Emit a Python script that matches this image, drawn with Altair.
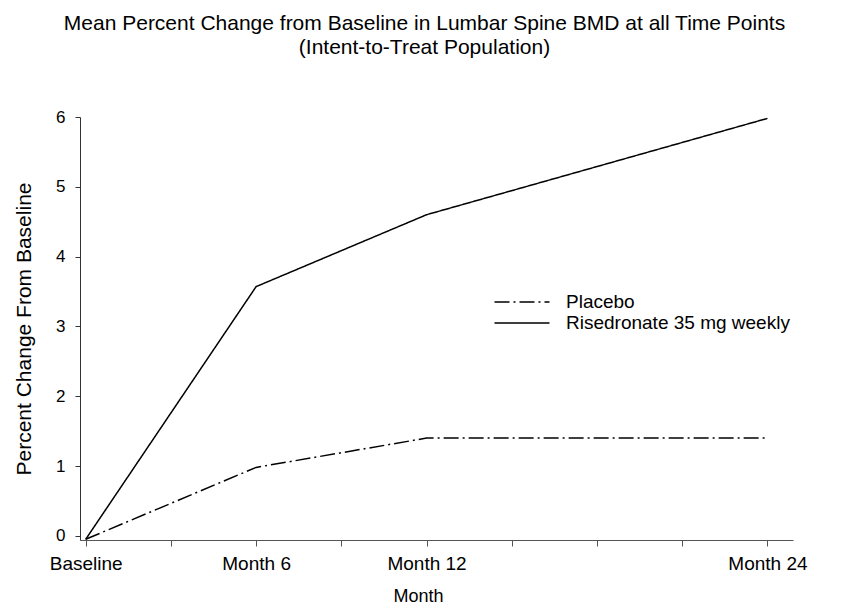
import altair as alt
import pandas as pd

months = [0, 6, 12, 24]
placebo = [-0.05, 0.98, 1.4, 1.4]
risedronate = [-0.05, 3.57, 4.6, 5.98]
series_names = ["Placebo", "Risedronate 35 mg weekly"]
x_tick_values = [0, 3, 6, 9, 12, 15, 18, 21, 24]
y_tick_values = [0, 1, 2, 3, 4, 5, 6]

rows = []
for m, v in zip(months, placebo):
    rows.append({"month": m, "value": v, "group": series_names[0]})
for m, v in zip(months, risedronate):
    rows.append({"month": m, "value": v, "group": series_names[1]})
df = pd.DataFrame(rows)

label_expr = ("datum.value == 0 ? 'Baseline' : datum.value == 6 ? 'Month 6' : "
              "datum.value == 12 ? 'Month 12' : datum.value == 24 ? 'Month 24' : ''")

font = "Liberation Sans"

chart = alt.Chart(df).mark_line(color="black", strokeWidth=1.5).encode(
    x=alt.X("month:Q",
            scale=alt.Scale(domain=[-0.2, 24.9], nice=False, zero=False),
            axis=alt.Axis(title="Month", values=x_tick_values, labelExpr=label_expr,
                          grid=False, tickSize=6, labelPadding=8, titlePadding=14,
                          labelFontSize=19, titleFontSize=18, titleFontWeight="normal",
                          labelFont=font, titleFont=font, domainColor="#555",
                          tickColor="#555", labelColor="black", titleColor="black",
                          titleX=338, labelFlush=False, labelOverlap=False)),
    y=alt.Y("value:Q",
            scale=alt.Scale(domain=[-0.06, 6], nice=False, zero=False),
            axis=alt.Axis(title="Percent Change From Baseline", values=y_tick_values,
                          grid=False, tickSize=5, labelPadding=10, titlePadding=21,
                          labelFontSize=17, titleFontSize=21, titleFontWeight="normal",
                          labelFont=font, titleFont=font, domainColor="#333",
                          tickColor="#333", labelColor="black", titleColor="black")),
    strokeDash=alt.StrokeDash("group:N",
                              scale=alt.Scale(domain=series_names, range=[[15, 4, 2, 4], [1, 0]]),
                              legend=alt.Legend(title=None, orient="none", legendX=431, legendY=174,
                                                symbolType="M-2.75,0L2.75,0", symbolSize=400,
                                                symbolStrokeWidth=1.3, symbolStrokeColor="black",
                                                labelFontSize=19, labelFont=font, labelColor="black",
                                                rowPadding=0, labelOffset=33, labelLimit=0)),
).properties(
    width=713,
    height=423,
    title=alt.TitleParams(
        text=["Mean Percent Change from Baseline in Lumbar Spine BMD at all Time Points",
              "(Intent-to-Treat Population)"],
        fontSize=21, fontWeight="normal", font=font, color="black",
        anchor="middle", offset=50, lineHeight=24, dx=-12),
).configure_view(stroke=None)

chart.save("out.html", embed_options={"renderer": "svg", "actions": False})
